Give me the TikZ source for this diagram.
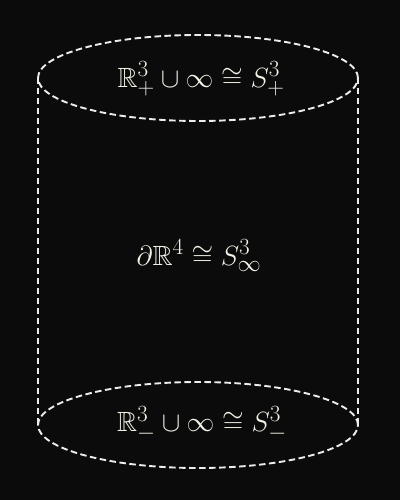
\documentclass[tikz,border=0pt]{standalone}
\usepackage{amssymb}
\definecolor{bg}{HTML}{0B0B0B}
\definecolor{ln}{HTML}{EDEDED}
\definecolor{tx}{HTML}{F2F2E6}
\begin{document}
\begin{tikzpicture}[x=1pt,y=1pt,
  dline/.style={draw=ln,line width=1.9pt,dash pattern=on 6.5pt off 3.5pt},
  lbl/.style={text=tx,font=\fontsize{24.88}{30}\selectfont,inner sep=0pt,scale=1.117,transform shape}]
\fill[bg] (0,0) rectangle (400,500);
\useasboundingbox (0,0) rectangle (400,500);
\draw[dline] (198,422) ellipse [x radius=160, y radius=43];
\draw[dline] (198,75) ellipse [x radius=160, y radius=43];
\coordinate (tl) at (38,422);
\coordinate (bl) at (38,75);
\coordinate (tr) at (358,422);
\coordinate (br) at (358,75);
\draw[dline] (tl) -- (bl);
\draw[dline] (tr) -- (br);
\node[lbl] (top) at (201,421) {$\mathbb{R}^3_+\cup\infty\cong S^3_+$};
\node[lbl] (mid) at (199,244) {$\partial\mathbb{R}^4\cong S^3_\infty$};
\node[lbl] (bot) at (202,76) {$\mathbb{R}^3_-\cup\infty\cong S^3_-$};
\end{tikzpicture}
\end{document}
